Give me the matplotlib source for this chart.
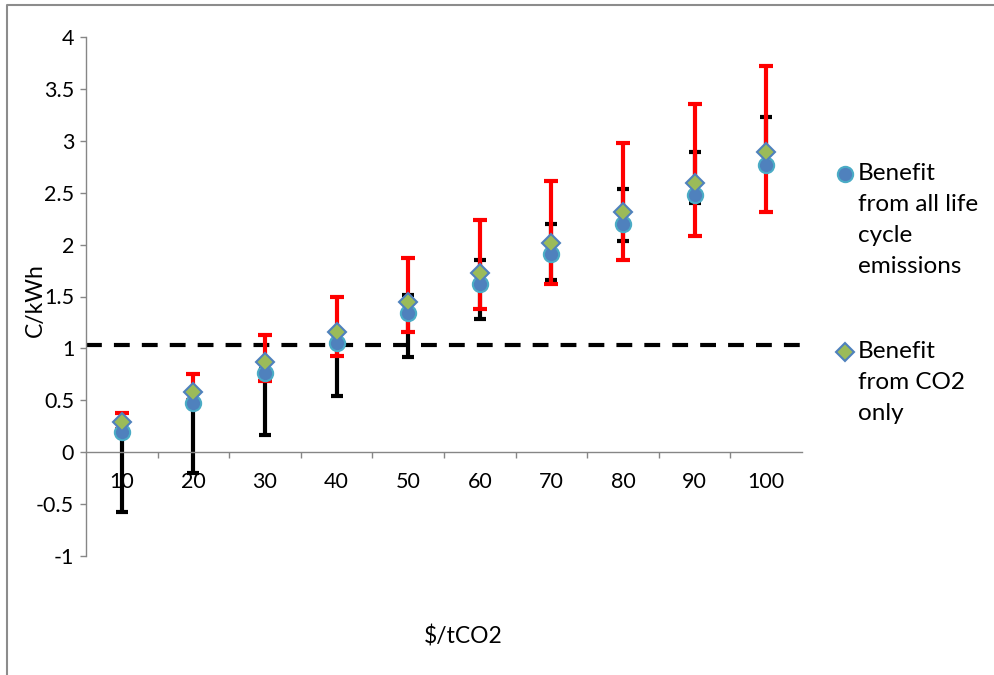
import matplotlib
matplotlib.use("Agg")
import matplotlib.pyplot as plt
from matplotlib.lines import Line2D
import numpy as np

plt.rcParams['font.family'] = ['Lato', 'DejaVu Sans']

categories = ["10", "20", "30", "40", "50", "60", "70", "80", "90", "100"]
all_lc = [0.19, 0.47, 0.76, 1.05, 1.34, 1.62, 1.91, 2.20, 2.48, 2.77]
co2_only = [0.29, 0.58, 0.87, 1.16, 1.45, 1.73, 2.02, 2.31, 2.59, 2.89]
black_low = [-0.58, -0.20, 0.17, 0.54, 0.92, 1.28, 1.66, 2.03, 2.40, 2.74]
black_high = [0.22, 0.50, 0.80, 1.08, 1.51, 1.85, 2.20, 2.54, 2.89, 3.23]
red_low = [0.22, 0.50, 0.69, 0.925, 1.16, 1.38, 1.62, 1.85, 2.08, 2.31]
red_high = [0.38, 0.75, 1.13, 1.50, 1.87, 2.235, 2.61, 2.98, 3.35, 3.72]
threshold = 1.03
yticks = [-1, -0.5, 0, 0.5, 1, 1.5, 2, 2.5, 3, 3.5, 4]
ytick_labels = ["-1", "-0.5", "0", "0.5", "1", "1.5", "2", "2.5", "3", "3.5", "4"]
legend_labels = ["Benefit\nfrom all life\ncycle\nemissions", "Benefit\nfrom CO2\nonly"]

FS = 15.5
FS_TITLE = 16.5
FS_LEG = 17.5
grey = "#868686"
blue = "#4F81BD"
lblue = "#4BACC6"
green = "#9BBB59"

fig = plt.figure(figsize=(9.95, 6.75), dpi=100)
ax = fig.add_axes([86/995, 1-556/675, (802-86)/995, (556-37)/675])

x = np.arange(len(categories))
a = np.array(all_lc); c = np.array(co2_only)
bl = np.array(black_low); bh = np.array(black_high)
rl = np.array(red_low); rh = np.array(red_high)

ax.axhline(threshold, color="black", lw=3, dashes=(3.8, 2.9), zorder=1)

ax.errorbar(x, a, yerr=[a - bl, bh - a], fmt="none", ecolor="black",
            elinewidth=3, capsize=4.3, capthick=3, zorder=2)
ax.errorbar(x, c, yerr=[c - rl, rh - c], fmt="none", ecolor="#FF0000",
            elinewidth=3, capsize=5, capthick=3, zorder=3)
ax.plot(x, a, linestyle="none", marker="o", markersize=11,
        markerfacecolor=blue, markeredgecolor=lblue, markeredgewidth=1.5, zorder=4)
ax.plot(x, c, linestyle="none", marker="D", markersize=9.5,
        markerfacecolor=green, markeredgecolor=blue, markeredgewidth=1.5, zorder=5)

ax.set_xlim(-0.5, len(categories) - 0.5)
ax.set_ylim(-1, 4)

for s in ["top", "right"]:
    ax.spines[s].set_visible(False)
ax.spines["left"].set_color(grey)
ax.spines["left"].set_linewidth(1.0)
ax.spines["bottom"].set_color(grey)
ax.spines["bottom"].set_linewidth(1.0)
ax.spines["bottom"].set_position(("data", 0))

ax.set_yticks(yticks)
ax.set_yticklabels(ytick_labels, fontsize=FS)
ax.tick_params(axis="y", direction="out", length=4.5, width=1, color=grey, pad=4)

ax.set_xticks(x)
ax.set_xticklabels(categories, fontsize=FS)
ax.set_xticks(np.arange(0.5, len(categories) - 0.5, 1), minor=True)
ax.tick_params(axis="x", which="major", length=0, pad=14)
ax.tick_params(axis="x", which="minor", direction="out", length=4.5, width=1, color=grey)

fig.text(35/995, 1-300/675, "C/kWh", rotation=90, fontsize=FS_TITLE, ha="center", va="center")
fig.text(463/995, 1-636/675, "$/tCO2", fontsize=FS_TITLE, ha="center", va="center")

# legend (manual, top-aligned markers like the source)
fig.add_artist(Line2D([845/995], [1-174/675], transform=fig.transFigure, linestyle="none",
                      marker="o", markersize=11, markerfacecolor=blue,
                      markeredgecolor=lblue, markeredgewidth=1.5))
fig.add_artist(Line2D([845/995], [1-352/675], transform=fig.transFigure, linestyle="none",
                      marker="D", markersize=9.5, markerfacecolor=green,
                      markeredgecolor=blue, markeredgewidth=1.5))
fig.text(858/995, 1-163/675, legend_labels[0], fontsize=FS_LEG, ha="left", va="top", linespacing=1.58)
fig.text(858/995, 1-341/675, legend_labels[1], fontsize=FS_LEG, ha="left", va="top", linespacing=1.58)

# outer chart frame (top and left visible)
fig.add_artist(Line2D([7/995, 7/995, 1.0], [0.0, 1-5/675, 1-5/675], transform=fig.transFigure,
                      color="#8C8C8C", lw=1.5))

fig.savefig("out.png", dpi=100)
